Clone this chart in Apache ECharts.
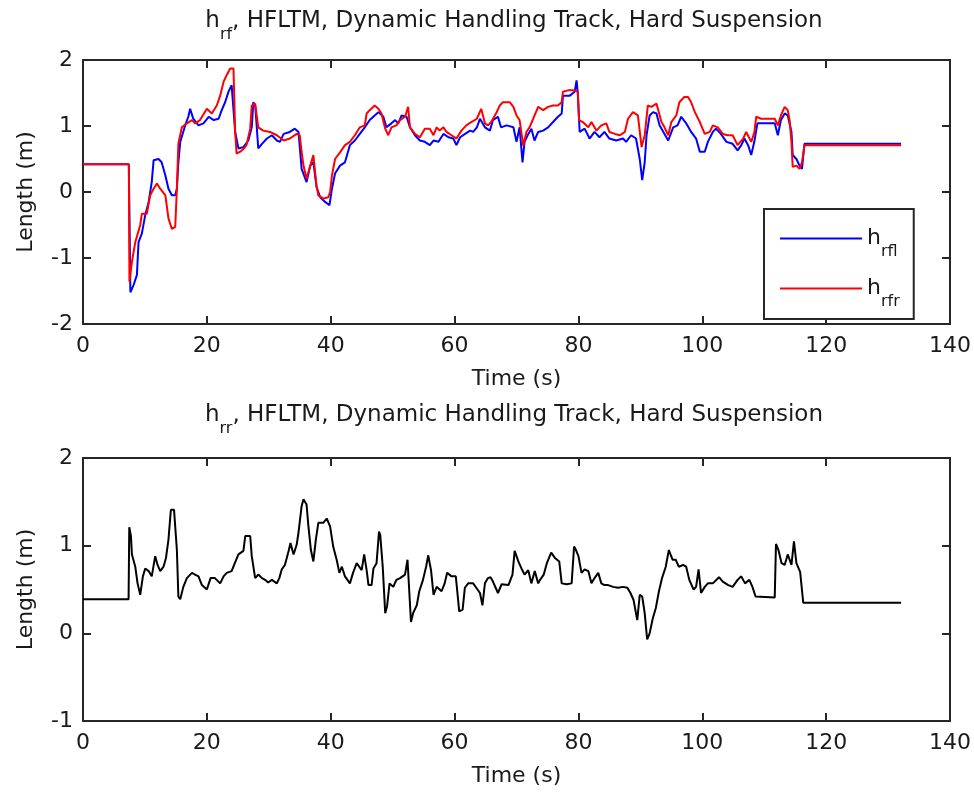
<!DOCTYPE html>
<html>
<head>
<meta charset="utf-8">
<title>h_rf / h_rr — HFLTM, Dynamic Handling Track, Hard Suspension</title>
<script src="https://cdn.jsdelivr.net/npm/echarts@6/dist/echarts.min.js"></script>
<style>
  html, body { margin: 0; padding: 0; background: #ffffff; }
  #chart { width: 974px; height: 796px; }
</style>
</head>
<body>
<div id="chart"></div>
<script>
// ---- axis ticks ----
const timeTicks = [0, 20, 40, 60, 80, 100, 120, 140];
const rfTicks = [-2, -1, 0, 1, 2];
const rrTicks = [-1, 0, 1, 2];

// ---- front axle, left wheel (h_rfl): time (s) and length (m) ----
const tRfl = [0, 7.4, 7.65, 8.17, 8.7, 8.97, 9.5, 10.05, 10.6, 11.1, 11.4, 12.2, 12.7, 13.3, 13.8, 14.35, 14.89, 15.16, 15.4, 15.7,
  16.5, 17.0, 17.3, 17.8, 18.65, 19.45, 20.3, 21.1, 21.9, 22.4, 22.95, 23.5, 24.0, 24.3, 24.57, 25.1, 25.9, 26.7, 27.25, 27.5,
  27.8, 28.0, 28.3, 28.9, 29.7, 30.5, 31.3, 31.8, 32.4, 33.4, 34.2, 34.8, 35.3, 35.6, 36.1, 36.7, 37.2, 37.7, 38.3, 39.1,
  39.8, 40.2, 40.7, 41.5, 42.3, 43.1, 43.9, 44.7, 45.5, 46.3, 47.1, 47.7, 48.5, 49.0, 49.8, 50.4, 50.9, 51.45, 52.25, 52.8,
  53.6, 54.4, 55.2, 56.0, 56.6, 57.4, 58.2, 59.0, 59.8, 60.3, 60.9, 61.7, 62.5, 63.0, 63.6, 64.1, 64.9, 65.7, 66.2, 67.0,
  67.5, 68.4, 69.5, 70.0, 70.5, 70.97, 71.3, 71.8, 72.4, 72.9, 73.5, 74.3, 75.1, 75.9, 76.7, 77.3, 77.5, 78.6, 79.4, 79.7,
  79.9, 80.2, 81.0, 81.8, 82.6, 83.4, 84.2, 85.0, 86.1, 87.2, 87.7, 88.5, 89.3, 89.9, 90.3, 90.7, 91.0, 91.5, 92.05, 92.6,
  93.1, 93.9, 94.5, 95.3, 96.0, 96.6, 97.4, 98.2, 99.0, 99.6, 100.4, 100.9, 101.7, 102.2, 103.0, 103.9, 104.9, 105.7, 106.3, 106.8,
  107.4, 107.9, 108.4, 108.9, 109.7, 111.7, 112.2, 112.7, 113.3, 113.8, 114.4, 114.6, 115.2, 115.7, 116.1, 116.5, 132.1];
const hRfl = [0.42, 0.42, -1.52, -1.41, -1.26, -0.76, -0.63, -0.35, -0.15, 0.15, 0.48, 0.50, 0.45, 0.25, 0.05, -0.05, -0.05, 0.05, 0.45, 0.76,
  1.01, 1.14, 1.26, 1.11, 1.01, 1.04, 1.14, 1.09, 1.11, 1.24, 1.36, 1.52, 1.62, 1.62, 0.91, 0.66, 0.68, 0.78, 0.98, 1.36,
  1.31, 1.06, 0.66, 0.73, 0.81, 0.86, 0.78, 0.76, 0.88, 0.91, 0.96, 0.91, 0.35, 0.35, 0.15, 0.40, 0.45, 0.08, -0.08, -0.15,
  -0.20, 0.05, 0.28, 0.40, 0.45, 0.71, 0.78, 0.88, 0.98, 1.09, 1.16, 1.21, 1.14, 0.98, 1.04, 1.09, 1.04, 1.16, 1.14, 0.98,
  0.86, 0.78, 0.76, 0.71, 0.78, 0.76, 0.88, 0.83, 0.81, 0.71, 0.83, 0.88, 0.93, 0.91, 0.98, 1.11, 0.98, 0.93, 1.09, 1.14,
  0.98, 1.01, 0.98, 0.76, 0.98, 0.45, 0.76, 0.86, 0.96, 0.78, 0.91, 0.93, 0.98, 1.06, 1.14, 1.19, 1.46, 1.46, 1.52, 1.69,
  1.49, 0.91, 0.96, 0.81, 0.91, 0.83, 0.91, 0.81, 0.78, 0.81, 0.76, 0.86, 0.81, 0.50, 0.18, 0.45, 0.86, 1.16, 1.21, 1.19,
  1.01, 0.88, 0.78, 0.98, 1.01, 1.14, 1.04, 0.91, 0.81, 0.61, 0.61, 0.76, 0.91, 0.96, 0.88, 0.76, 0.73, 0.63, 0.71, 0.81,
  0.71, 0.56, 0.76, 1.04, 1.04, 1.04, 0.86, 1.09, 1.19, 1.16, 0.91, 0.56, 0.50, 0.40, 0.35, 0.73, 0.73];

// ---- front axle, right wheel (h_rfr) ----
const tRfr = [0, 7.4, 7.5, 7.9, 8.44, 9.24, 9.5, 10.3, 10.85, 11.4, 11.93, 12.47, 13.3, 13.8, 14.35, 14.89, 15.16, 15.4, 15.96, 16.77,
  17.6, 18.1, 18.9, 20.0, 20.8, 21.6, 22.15, 22.7, 23.2, 23.76, 24.3, 24.57, 24.8, 25.4, 25.9, 26.4, 27.0, 27.25, 27.8, 28.3,
  29.1, 30.2, 31.3, 32.4, 33.4, 34.5, 35.0, 35.3, 35.6, 36.1, 36.7, 37.2, 37.7, 38.0, 38.8, 39.6, 39.9, 40.2, 40.7, 41.5,
  42.3, 43.1, 43.9, 44.7, 45.5, 45.8, 46.3, 47.1, 47.7, 48.2, 48.8, 49.3, 49.8, 50.6, 51.2, 52.0, 52.5, 52.8, 53.6, 54.4,
  55.2, 56.0, 56.6, 57.1, 57.6, 58.2, 58.7, 59.5, 60.3, 61.1, 61.9, 62.7, 63.6, 64.3, 64.9, 65.4, 65.9, 66.8, 67.3, 67.8,
  68.9, 69.5, 70.0, 70.5, 71.1, 71.6, 72.1, 72.7, 73.5, 74.3, 75.1, 75.9, 76.7, 77.3, 77.5, 78.3, 79.4, 79.9, 80.1, 80.7,
  81.6, 82.1, 82.9, 83.7, 84.5, 85.0, 85.9, 86.7, 87.5, 88.0, 88.8, 89.6, 90.2, 90.7, 91.2, 91.8, 92.6, 93.4, 93.9, 94.5,
  95.0, 95.8, 96.3, 97.1, 97.7, 98.2, 98.8, 99.6, 100.4, 101.2, 101.7, 102.5, 103.3, 104.1, 104.9, 105.7, 106.0, 106.6, 107.1, 107.9,
  108.4, 108.7, 109.5, 111.7, 112.2, 112.7, 113.3, 113.8, 114.1, 114.4, 114.6, 115.2, 115.7, 116.1, 116.5, 132.1];
const hRfr = [0.42, 0.42, -1.36, -1.06, -0.76, -0.50, -0.33, -0.33, -0.05, 0.05, 0.13, 0.05, -0.05, -0.40, -0.56, -0.53, 0.05, 0.73, 0.98, 1.04,
  1.09, 1.04, 1.09, 1.26, 1.19, 1.31, 1.46, 1.67, 1.77, 1.87, 1.87, 0.91, 0.58, 0.61, 0.65, 0.71, 0.96, 1.31, 1.34, 0.98,
  0.93, 0.91, 0.86, 0.78, 0.81, 0.88, 0.86, 0.61, 0.40, 0.20, 0.40, 0.56, 0.10, -0.05, -0.10, -0.08, 0.00, 0.25, 0.50, 0.60,
  0.71, 0.76, 0.86, 0.98, 1.01, 1.19, 1.24, 1.31, 1.26, 1.19, 0.96, 0.86, 0.98, 1.01, 1.09, 1.14, 1.29, 0.98, 0.88, 0.83,
  0.96, 0.96, 0.86, 0.98, 0.93, 0.98, 0.91, 0.86, 0.81, 0.93, 1.01, 1.06, 1.11, 1.26, 1.04, 1.01, 1.06, 1.21, 1.31, 1.36,
  1.36, 1.29, 1.16, 1.09, 0.70, 0.91, 0.98, 1.11, 1.29, 1.24, 1.29, 1.31, 1.31, 1.36, 1.52, 1.54, 1.54, 1.52, 1.09, 1.06,
  0.98, 1.06, 0.93, 1.01, 1.04, 0.91, 0.88, 0.86, 0.91, 1.11, 1.21, 1.16, 0.68, 0.86, 1.31, 1.29, 1.34, 1.06, 0.98, 0.86,
  1.06, 1.16, 1.36, 1.44, 1.44, 1.36, 1.21, 1.06, 0.88, 0.91, 1.01, 0.98, 0.88, 0.86, 0.86, 0.71, 0.68, 0.81, 0.91, 0.76,
  0.90, 1.14, 1.11, 1.11, 1.01, 1.16, 1.29, 1.24, 1.09, 0.76, 0.38, 0.40, 0.35, 0.45, 0.71, 0.71];

// ---- rear axle (h_rr) ----
const tRr = [0, 7.36, 7.47, 7.74, 7.9, 8.44, 8.81, 9.24, 9.67, 10.05, 10.6, 11.1, 11.66, 12.04, 12.47, 13.0, 13.4, 13.8, 14.19, 14.7,
  15.16, 15.4, 15.7, 16.2, 16.77, 17.6, 18.1, 18.65, 19.2, 20.0, 20.6, 21.3, 22.15, 22.7, 23.2, 24.0, 24.4, 25.1, 25.9, 26.2,
  27.0, 27.25, 27.8, 28.3, 28.9, 29.4, 29.9, 30.5, 31.3, 31.7, 32.1, 32.6, 33.2, 33.5, 34.0, 34.5, 34.8, 35.3, 35.6, 36.1,
  36.4, 36.8, 37.2, 37.6, 38.0, 38.8, 39.35, 39.9, 40.4, 40.96, 41.4, 41.8, 42.3, 43.1, 43.6, 44.2, 45.0, 45.4, 45.8, 46.1,
  46.6, 46.9, 47.4, 47.8, 48.0, 48.4, 48.8, 49.1, 49.5, 50.1, 50.6, 51.2, 52.0, 52.4, 52.7, 52.96, 53.3, 53.9, 54.3, 54.9,
  55.4, 55.75, 56.2, 56.6, 57.1, 57.9, 58.4, 58.8, 59.5, 60.2, 60.75, 61.3, 61.66, 62.2, 63.0, 63.5, 64.1, 64.5, 64.9, 65.4,
  65.8, 66.2, 67.0, 67.6, 68.7, 69.35, 69.7, 70.3, 70.8, 71.3, 71.9, 72.4, 72.95, 73.5, 73.8, 74.4, 74.9, 75.6, 76.2, 76.9,
  77.3, 78.1, 78.9, 79.3, 79.6, 80.0, 80.5, 81.0, 81.6, 82.1, 82.6, 83.2, 83.7, 84.2, 84.8, 85.6, 86.4, 87.2, 87.9, 88.4,
  88.9, 89.5, 89.9, 90.3, 90.7, 91.1, 91.5, 92.0, 92.5, 93.0, 93.5, 94.1, 94.6, 95.2, 95.7, 96.2, 96.9, 97.4, 97.9, 98.6,
  99.0, 99.4, 99.8, 100.4, 100.9, 101.7, 102.7, 103.3, 104.2, 104.9, 105.7, 106.3, 106.9, 107.6, 108.1, 108.6, 111.7, 111.9, 112.3, 112.8,
  113.3, 113.8, 114.4, 114.8, 115.2, 115.8, 116.3, 132.1];
const hRr = [0.39, 0.39, 1.21, 1.11, 0.90, 0.76, 0.57, 0.44, 0.65, 0.74, 0.71, 0.65, 0.88, 0.78, 0.71, 0.76, 0.86, 1.07, 1.41, 1.41,
  0.95, 0.42, 0.39, 0.53, 0.63, 0.69, 0.67, 0.65, 0.55, 0.50, 0.63, 0.63, 0.57, 0.65, 0.69, 0.71, 0.78, 0.90, 0.94, 1.11,
  1.11, 0.88, 0.63, 0.67, 0.63, 0.61, 0.58, 0.61, 0.57, 0.63, 0.73, 0.78, 0.94, 1.03, 0.90, 1.01, 1.15, 1.45, 1.53, 1.47,
  1.22, 0.95, 0.82, 1.07, 1.26, 1.26, 1.31, 1.22, 0.99, 0.84, 0.69, 0.76, 0.65, 0.57, 0.69, 0.80, 0.72, 0.90, 0.72, 0.55,
  0.55, 0.74, 0.80, 1.16, 1.12, 0.76, 0.23, 0.31, 0.57, 0.53, 0.61, 0.63, 0.67, 0.84, 0.84, 0.13, 0.23, 0.32, 0.48, 0.61,
  0.76, 0.89, 0.72, 0.44, 0.53, 0.48, 0.57, 0.69, 0.65, 0.65, 0.25, 0.27, 0.52, 0.57, 0.57, 0.52, 0.46, 0.32, 0.57, 0.63,
  0.64, 0.59, 0.46, 0.56, 0.55, 0.67, 0.94, 0.82, 0.74, 0.67, 0.72, 0.57, 0.71, 0.57, 0.61, 0.67, 0.80, 0.92, 0.86, 0.82,
  0.57, 0.56, 0.57, 0.99, 0.95, 0.88, 0.69, 0.73, 0.71, 0.57, 0.63, 0.69, 0.57, 0.55, 0.55, 0.53, 0.52, 0.53, 0.52, 0.46,
  0.38, 0.15, 0.44, 0.42, 0.23, -0.07, 0.00, 0.17, 0.29, 0.48, 0.63, 0.76, 0.95, 0.84, 0.84, 0.76, 0.78, 0.76, 0.61, 0.50,
  0.53, 0.73, 0.46, 0.53, 0.57, 0.57, 0.64, 0.59, 0.55, 0.53, 0.61, 0.65, 0.57, 0.61, 0.53, 0.42, 0.41, 1.02, 0.95, 0.80,
  0.78, 0.90, 0.78, 1.05, 0.80, 0.70, 0.35, 0.35];

const pairs = (t, h) => t.map((x, i) => [x, h[i]]);

const FONT = 'DejaVu Sans';
const INK = '#1a1a1a';
const FRAME = '#262626';
const LABEL_SIZE = 22;
const subRich = { s: { fontFamily: FONT, fontSize: 16, color: INK, lineHeight: 15, verticalAlign: 'bottom' } };

const grids = [
  { left: 83, top: 60, width: 868, height: 264 },
  { left: 83, top: 458, width: 868, height: 263 }
];

function xAxes(gridIndex) {
  const base = {
    gridIndex, type: 'value', min: timeTicks[0], max: timeTicks[timeTicks.length - 1],
    interval: timeTicks[1] - timeTicks[0],
    axisLine: { show: true, onZero: false, lineStyle: { color: FRAME, width: 2 } },
    axisTick: { show: true, inside: true, length: 8, lineStyle: { color: FRAME, width: 2 } },
    splitLine: { show: false }
  };
  return [
    Object.assign({}, base, {
      position: 'bottom',
      axisLabel: { show: true, color: INK, fontFamily: FONT, fontSize: LABEL_SIZE, margin: 11, showMinLabel: true, showMaxLabel: true },
      name: 'Time (s)', nameLocation: 'middle', nameGap: 44,
      nameTextStyle: { color: INK, fontFamily: FONT, fontSize: LABEL_SIZE }
    }),
    Object.assign({}, base, { position: 'top', axisLabel: { show: false } })
  ];
}

function yAxes(gridIndex, ticks) {
  const base = {
    gridIndex, type: 'value', min: ticks[0], max: ticks[ticks.length - 1], interval: ticks[1] - ticks[0],
    axisLine: { show: true, onZero: false, lineStyle: { color: FRAME, width: 2 } },
    axisTick: { show: true, inside: true, length: 8, lineStyle: { color: FRAME, width: 2 } },
    splitLine: { show: false }
  };
  return [
    Object.assign({}, base, {
      position: 'left',
      axisLabel: { show: true, color: INK, fontFamily: FONT, fontSize: LABEL_SIZE, margin: 10, showMinLabel: true, showMaxLabel: true },
      name: 'Length (m)', nameLocation: 'middle', nameGap: 46,
      nameTextStyle: { color: INK, fontFamily: FONT, fontSize: LABEL_SIZE }
    }),
    Object.assign({}, base, { position: 'right', axisLabel: { show: false } })
  ];
}

const lineSeries = (name, data, color, xi, yi) => ({
  name, type: 'line', data, xAxisIndex: xi, yAxisIndex: yi,
  showSymbol: false, symbol: 'none', animation: false,
  lineStyle: { color, width: 2 }, itemStyle: { color }
});

const titleStyle = { color: INK, fontFamily: FONT, fontSize: 23, fontWeight: 'normal', lineHeight: 43, rich: subRich };

const chart = echarts.init(document.getElementById('chart'), null, { renderer: 'canvas' });
chart.setOption({
  backgroundColor: '#ffffff',
  animation: false,
  title: [
    {
      text: 'h{s|rf}, HFLTM, Dynamic Handling Track, Hard Suspension',
      left: 514, top: 0, textAlign: 'center', padding: 0, textStyle: titleStyle
    },
    {
      text: 'h{s|rr}, HFLTM, Dynamic Handling Track, Hard Suspension',
      left: 514, top: 394, textAlign: 'center', padding: 0, textStyle: titleStyle
    }
  ],
  grid: grids,
  xAxis: [...xAxes(0), ...xAxes(1)],
  yAxis: [...yAxes(0, rfTicks), ...yAxes(1, rrTicks)],
  legend: {
    data: ['hrfl', 'hrfr'],
    orient: 'vertical', left: 764, top: 209,
    icon: 'rect', itemWidth: 82, itemHeight: 2, itemGap: 7,
    padding: [8, 14, 9, 16],
    borderColor: FRAME, borderWidth: 2, backgroundColor: '#ffffff',
    formatter: (n) => 'h{s|' + n.slice(1) + '}',
    textStyle: { color: INK, fontFamily: FONT, fontSize: LABEL_SIZE, lineHeight: 43, rich: subRich }
  },
  series: [
    lineSeries('hrfl', pairs(tRfl, hRfl), '#0000ff', 0, 0),
    lineSeries('hrfr', pairs(tRfr, hRfr), '#ff0000', 0, 0),
    lineSeries('hrr', pairs(tRr, hRr), '#000000', 2, 2)
  ]
});
</script>
</body>
</html>
